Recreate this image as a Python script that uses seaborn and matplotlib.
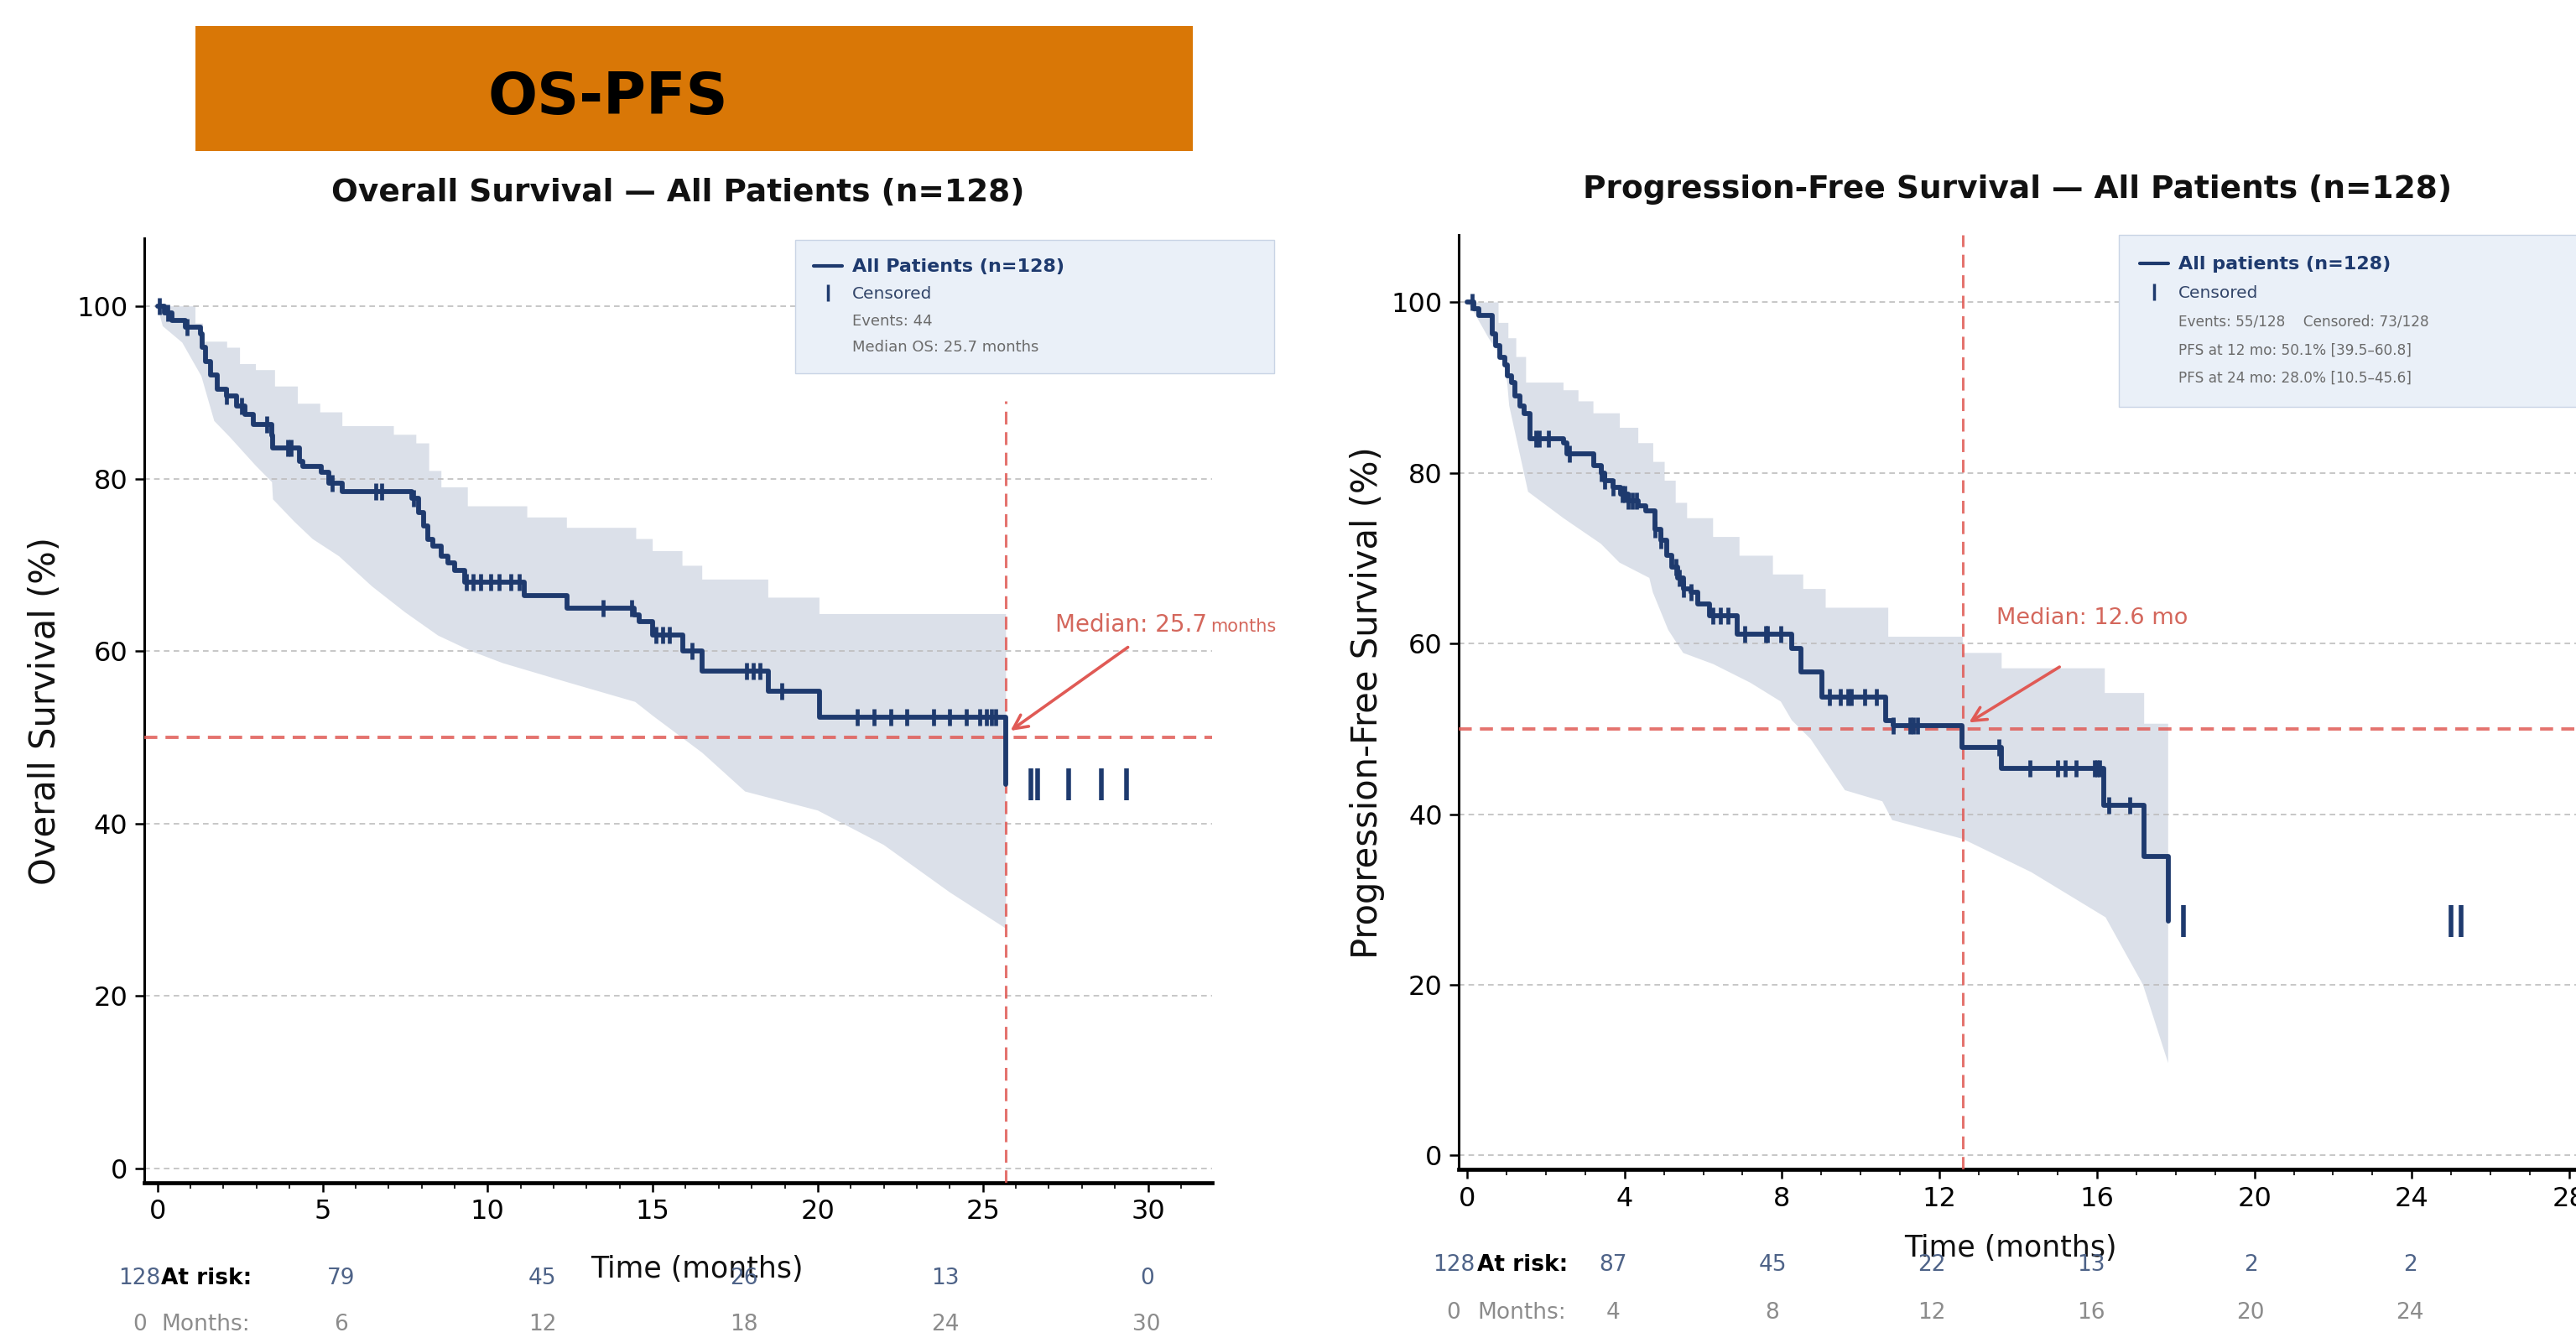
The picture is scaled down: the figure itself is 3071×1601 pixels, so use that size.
import numpy as np
import matplotlib
matplotlib.use('Agg')
import matplotlib.pyplot as plt
from matplotlib.lines import Line2D
from matplotlib.patches import Rectangle
from matplotlib.ticker import MultipleLocator
import seaborn as sns

# ---- Overall survival ----
os_time = [0, 0.2, 0.45, 0.85, 1.3, 1.35, 1.45, 1.6, 1.8, 2.1, 2.4, 2.65, 2.9, 3.45, 3.5,
           4.3, 4.4, 4.95, 5.2, 5.6, 7.7, 7.9, 8.05, 8.2, 8.35, 8.6, 8.8, 9.0, 9.3, 11.1,
           12.4, 14.45, 14.6, 15.0, 15.9, 16.5, 18.5, 20.05, 25.7]
os_surv = [100, 99.2, 98.4, 97.6, 96.8, 95.2, 93.6, 92.0, 90.4, 89.6, 88.4, 87.5, 86.3, 85.0, 83.6,
           82.0, 81.4, 80.7, 79.5, 78.5, 77.7, 76.1, 74.5, 73.0, 72.2, 71.0, 70.2, 69.4, 68.0, 66.4,
           65.0, 64.2, 63.4, 61.9, 60.0, 57.7, 55.3, 52.3, 44.5]
os_cens = [0.05, 0.3, 0.9, 2.1, 2.55, 3.3, 3.95, 4.05, 5.3, 6.6, 6.8, 7.75, 9.35, 9.55, 9.8,
           10.1, 10.35, 10.7, 10.95, 13.5, 14.35, 15.1, 15.3, 15.5, 16.2, 17.85, 18.05, 18.25,
           18.9, 21.2, 21.7, 22.2, 22.7, 23.5, 24.0, 24.5, 24.9, 25.1, 25.25, 25.4]
os_cens_tail = [26.45, 26.65, 27.6, 28.6, 29.35]
os_up_t = [0, 1.15, 1.38, 2.11, 2.5, 2.98, 3.56, 4.25, 4.93, 5.6, 7.16, 7.84, 8.23, 8.6, 9.4,
           11.2, 12.4, 14.5, 15.0, 15.9, 16.5, 18.5, 20.05, 25.7]
os_up = [100, 98.0, 95.9, 95.2, 93.3, 92.6, 90.7, 88.7, 87.7, 86.1, 85.1, 84.1, 80.9, 79.0, 76.8,
         75.5, 74.3, 73.0, 71.6, 69.9, 68.3, 66.2, 64.3, 64.3]
os_lo_t = [0, 0.16, 0.75, 1.33, 1.72, 2.2, 2.98, 3.47, 3.5, 4.15, 4.7, 5.5, 6.5, 7.5, 8.5, 9.5,
           10.46, 12.4, 14.47, 15.0, 16.5, 17.8, 20.0, 22.0, 24.0, 25.7]
os_lo = [100, 97.7, 95.8, 91.9, 86.7, 84.8, 81.5, 79.6, 77.6, 75.0, 73.0, 71.0, 67.5, 64.5, 61.8,
         60.0, 58.6, 56.4, 54.1, 52.5, 48.2, 43.7, 41.5, 37.5, 32.0, 27.8]
os_median = 25.7
os_risk = [128, 79, 45, 26, 13, 0]
os_risk_months = [0, 6, 12, 18, 24, 30]

# ---- Progression-free survival ----
pfs_time = [0, 0.17, 0.3, 0.64, 0.72, 0.83, 0.95, 1.02, 1.12, 1.21, 1.35, 1.45, 1.59, 2.45, 2.54,
            3.21, 3.4, 3.5, 3.7, 3.9, 4.1, 4.35, 4.54, 4.78, 4.92, 5.07, 5.21, 5.35, 5.49, 5.68,
            5.87, 6.16, 6.87, 8.25, 8.49, 9.01, 10.63, 10.82, 12.58, 13.58, 16.18, 17.19, 17.81]
pfs_surv = [100, 99.3, 98.5, 96.3, 94.9, 93.6, 92.7, 91.4, 90.6, 89.0, 87.9, 87.0, 84.0, 83.5, 82.2,
            80.9, 80.0, 79.1, 78.3, 77.5, 76.7, 76.1, 75.6, 73.4, 72.1, 70.3, 69.0, 67.7, 66.4, 66.0,
            64.6, 63.3, 61.1, 59.4, 56.7, 53.7, 51.0, 50.4, 47.8, 45.4, 41.0, 35.0, 27.5]
pfs_cens = [0.12, 1.74, 1.83, 2.07, 2.59, 3.4, 3.5, 3.7, 3.95, 4.0, 4.1, 4.2, 4.3, 4.78, 4.92,
            5.3, 5.4, 5.5, 5.68, 6.25, 6.44, 6.63, 7.06, 7.59, 7.63, 7.97, 9.2, 9.49, 9.68, 9.77,
            10.1, 10.39, 10.82, 11.25, 11.34, 11.44, 13.52, 14.3, 15.0, 15.2, 15.47, 15.94, 16.0,
            16.06, 16.3, 16.83]
pfs_cens_tail = [18.2, 25.0, 25.25]
pfs_up_t = [0, 0.8, 1.05, 1.25, 1.5, 2.45, 2.83, 3.21, 3.88, 4.35, 4.73, 5.02, 5.3, 5.59, 6.25,
            6.92, 7.77, 8.54, 9.11, 10.7, 12.59, 13.58, 16.2, 17.2, 17.81]
pfs_up = [100, 97.6, 95.8, 93.6, 90.6, 89.7, 88.4, 87.0, 85.3, 83.5, 81.3, 79.1, 76.5, 74.7, 72.5,
          70.3, 68.1, 66.4, 64.2, 60.8, 58.9, 57.1, 54.2, 50.6, 50.6]
pfs_lo_t = [0, 0.17, 0.55, 0.93, 1.02, 1.07, 1.55, 2.45, 3.4, 3.87, 4.63, 4.72, 5.11, 5.49, 6.25,
            7.2, 7.97, 8.25, 8.73, 9.6, 10.55, 10.8, 12.59, 14.33, 16.22, 17.17, 17.81]
pfs_lo = [100, 98.9, 95.8, 93.2, 90.6, 87.9, 77.8, 74.7, 71.7, 69.5, 67.7, 66.0, 61.6, 58.9, 57.6,
          55.4, 53.2, 51.0, 48.8, 42.8, 41.5, 39.3, 37.1, 33.2, 27.9, 20.0, 10.8]
pfs_median = 12.6
pfs_risk = [128, 87, 45, 22, 13, 2, 2]
pfs_risk_months = [0, 4, 8, 12, 16, 20, 24]

sns.set_theme(style='ticks')
plt.rcParams['font.family'] = ['DejaVu Sans']
plt.rcParams['text.color'] = '#111111'
plt.rcParams['axes.labelcolor'] = '#111111'

NAVY = '#1E3A6E'
RED = '#E05A55'
RED_TXT = '#D4675C'
BAND = '#B8C2D4'
RISK_BLUE = '#4E6388'
GREY = '#8C8C8C'


def km_panel(ax, t, s, cens, tail, up_t, up, lo_t, lo, median, vmax_frac):
    t = np.asarray(t)
    s = np.asarray(s)
    # confidence band: stepped upper edge, straight lower edge
    ux = np.repeat(up_t, 2)[1:]
    uy = np.repeat(up, 2)[:-1]
    px = np.concatenate([ux, np.asarray(lo_t)[::-1]])
    py = np.concatenate([uy, np.asarray(lo)[::-1]])
    ax.fill(px, py, color=BAND, alpha=0.5, lw=0, zorder=1)

    sns.lineplot(x=t, y=s, drawstyle='steps-post', estimator=None, color=NAVY,
                 lw=4.2, ax=ax, zorder=4)
    idx = np.searchsorted(t, cens, side='right') - 1
    ax.plot(cens, s[idx], ls='none', marker='|', ms=15, mew=3.4, color=NAVY, zorder=5)
    ax.plot(tail, np.full(len(tail), s[-1]), ls='none', marker='|', ms=27, mew=4.0,
            color=NAVY, zorder=5)

    ax.axhline(50, color=RED, ls=(0, (4, 2.5)), lw=2.8, alpha=0.85, zorder=3)
    ax.axvline(median, ymax=vmax_frac, color=RED, ls=(0, (5, 3)), lw=2.2, alpha=0.85, zorder=3)

    ax.set_ylim(-1.7, 107.9)
    ax.set_yticks([0, 20, 40, 60, 80, 100])
    ax.yaxis.grid(True, ls=(0, (4, 3)), color='#BDBDBD', lw=1.2)
    ax.set_axisbelow('line')
    ax.xaxis.set_minor_locator(MultipleLocator(1))
    ax.spines[['top', 'right']].set_visible(False)
    ax.spines['left'].set_linewidth(2.2)
    ax.spines['bottom'].set_linewidth(3.4)
    ax.spines[['left', 'bottom']].set_color('black')
    ax.tick_params(axis='both', which='major', length=8, width=1.8, pad=6,
                   labelsize=23, colors='black')
    ax.tick_params(axis='x', which='minor', length=5, width=1.2, color='black')


def style_legend(leg, sizes, colors, weights):
    for txt, fs, c, w in zip(leg.get_texts(), sizes, colors, weights):
        txt.set_fontsize(fs)
        txt.set_color(c)
        txt.set_fontweight(w)


def risk_table(counts, months, xs, y1, y2, label_x):
    for x, n, m in zip(xs, counts, months):
        fig.text(x, y1, str(n), ha='center', va='center', fontsize=19, color=RISK_BLUE)
        fig.text(x, y2, str(m), ha='center', va='center', fontsize=19, color=GREY)
    fig.text(label_x, y1, 'At risk:', ha='left', va='center', fontsize=19,
             fontweight='bold', color='black')
    fig.text(label_x, y2, 'Months:', ha='left', va='center', fontsize=19, color=GREY)


fig = plt.figure(figsize=(30.71, 16.01), dpi=100)
ax1 = fig.add_axes([0.056, 0.1193, 0.4145, 0.7033])
ax2 = fig.add_axes([0.5663, 0.129, 0.4337, 0.696])

# banner
fig.add_artist(Rectangle((0.0759, 0.8876), 0.387, 0.093, transform=fig.transFigure,
                         facecolor='#D97706', edgecolor='none', zorder=0))
fig.text(0.236, 0.927, 'OS-PFS', ha='center', va='center', fontsize=50,
         fontweight='bold', color='black')

# ---- left: OS ----
km_panel(ax1, os_time, os_surv, os_cens, os_cens_tail, os_up_t, os_up, os_lo_t, os_lo,
         os_median, 0.828)
ax1.set_xlim(-0.4, 31.94)
ax1.set_xticks([0, 5, 10, 15, 20, 25, 30])
ax1.set_title('Overall Survival — All Patients (n=128)', fontsize=27, fontweight='bold',
              pad=32, color='#111111')
ax1.set_ylabel('Overall Survival (%)', fontsize=30, labelpad=12)
ax1.set_xlabel('Time (months)', fontsize=25)
ax1.xaxis.set_label_coords(0.518, -0.076)

ax1.annotate('', xy=(25.78, 50.6), xytext=(29.45, 60.6),
             arrowprops=dict(arrowstyle='->', color=RED, lw=2.6, mutation_scale=30))
med1 = ax1.text(27.2, 63, 'Median: 25.7', color=RED_TXT, fontsize=20, ha='left', va='center')
ax1.annotate('months', xy=(1.02, 0.1), xycoords=med1, color=RED_TXT, fontsize=15,
             ha='left', va='bottom')

h1 = [Line2D([], [], color=NAVY, lw=3),
      Line2D([], [], color=NAVY, marker='|', ls='none', ms=14, mew=2.5),
      Line2D([], [], alpha=0), Line2D([], [], alpha=0)]
leg1 = ax1.legend(h1, ['All Patients (n=128)', 'Censored', 'Events: 44',
                       'Median OS: 25.7 months'],
                  loc='upper left', bbox_to_anchor=(0.61, 0.5, 0.448, 0.498), mode='expand',
                  borderaxespad=0, frameon=True, fancybox=False, facecolor='#EAF0F8',
                  edgecolor='#C9D4E5', framealpha=1, handlelength=1.6, handletextpad=0.6,
                  labelspacing=0.62, borderpad=1.05, fontsize=15)
style_legend(leg1, [16, 14.5, 13, 13], [NAVY, '#33466A', '#6B6B6B', '#6B6B6B'],
             ['bold', 'normal', 'normal', 'normal'])

# ---- right: PFS ----
km_panel(ax2, pfs_time, pfs_surv, pfs_cens, pfs_cens_tail, pfs_up_t, pfs_up, pfs_lo_t, pfs_lo,
         pfs_median, 1.0)
ax2.set_xlim(-0.21, 28.17)
ax2.set_xticks([0, 4, 8, 12, 16, 20, 24, 28])
ax2.set_title('Progression-Free Survival — All Patients (n=128)', fontsize=27,
              fontweight='bold', pad=32, color='#111111')
ax2.set_ylabel('Progression-Free Survival (%)', fontsize=30, labelpad=5)
ax2.set_xlabel('Time (months)', fontsize=25)
ax2.xaxis.set_label_coords(0.494, -0.069)

ax2.annotate('', xy=(12.7, 50.6), xytext=(15.1, 57.4),
             arrowprops=dict(arrowstyle='->', color=RED, lw=2.6, mutation_scale=30))
ax2.text(13.44, 63, 'Median: 12.6 mo', color=RED_TXT, fontsize=19.5, ha='left', va='center')

h2 = [Line2D([], [], color=NAVY, lw=3),
      Line2D([], [], color=NAVY, marker='|', ls='none', ms=14, mew=2.5),
      Line2D([], [], alpha=0), Line2D([], [], alpha=0), Line2D([], [], alpha=0)]
leg2 = ax2.legend(h2, ['All patients (n=128)', 'Censored',
                       'Events: 55/128    Censored: 73/128',
                       'PFS at 12 mo: 50.1% [39.5–60.8]',
                       'PFS at 24 mo: 28.0% [10.5–45.6]'],
                  loc='upper left', bbox_to_anchor=(0.591, 0.5, 0.45, 0.5), mode='expand',
                  borderaxespad=0, frameon=True, fancybox=False, facecolor='#EAF0F8',
                  edgecolor='#C9D4E5', framealpha=1, handlelength=1.6, handletextpad=0.6,
                  labelspacing=0.72, borderpad=1.2, fontsize=15)
style_legend(leg2, [16, 14.5, 12.2, 12.2, 12.2],
             [NAVY, '#33466A', '#6B6B6B', '#6B6B6B', '#6B6B6B'],
             ['bold', 'normal', 'normal', 'normal', 'normal'])

# ---- number at risk ----
risk_table(os_risk, os_risk_months, np.linspace(0.0542, 0.4452, len(os_risk)),
           0.0481, 0.0137, 0.0625)
risk_table(pfs_risk, pfs_risk_months, np.linspace(0.5643, 0.9356, len(pfs_risk)),
           0.0581, 0.0225, 0.5734)

fig.savefig('out.png', dpi=100)
